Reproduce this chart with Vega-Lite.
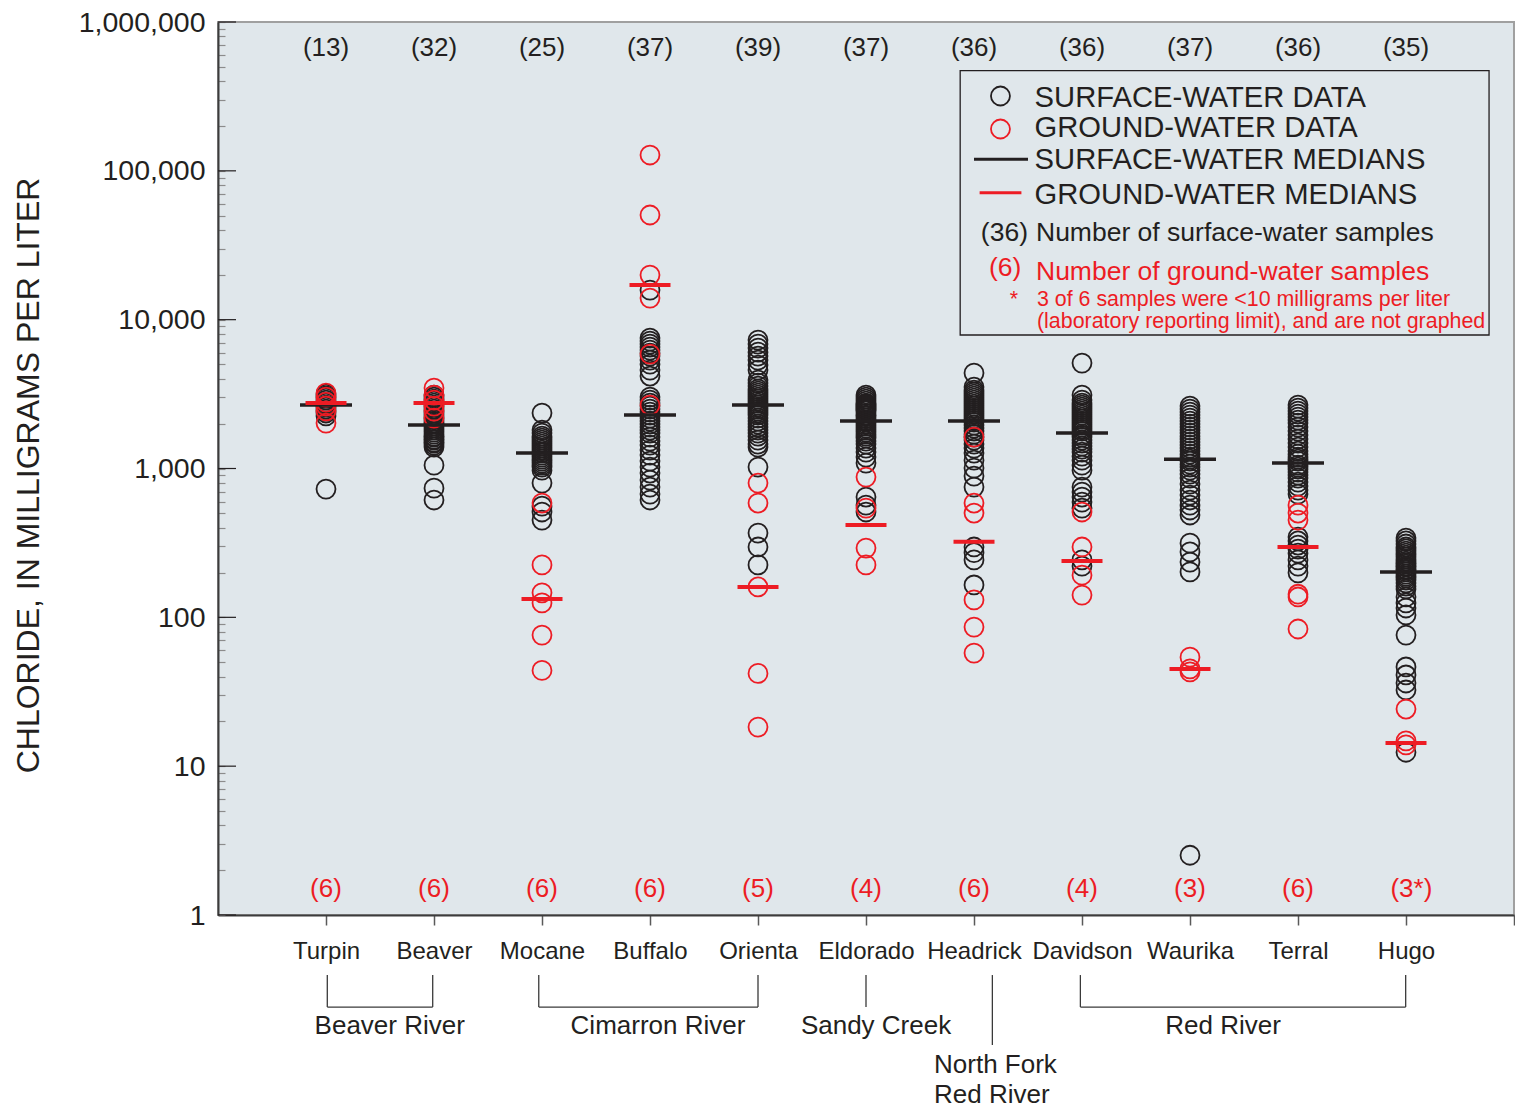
{
  "$schema": "https://vega.github.io/schema/vega-lite/v6.json",
  "autosize": "none",
  "padding": {"left": 218, "top": 22, "right": 1, "bottom": 195},
  "width": 1296,
  "height": 893,
  "background": "white",
  "config": {"font": "Liberation Sans", "view": {"fill": "#e0e7eb", "stroke": "#a0a0a0", "strokeWidth": 2}},
  "datasets": {
    "obs": [
      {"site":1,"type":"surface","chloride":3160},{"site":1,"type":"surface","chloride":3070},{"site":1,"type":"surface","chloride":2975},{"site":1,"type":"surface","chloride":2885},{"site":1,"type":"surface","chloride":2795},{"site":1,"type":"surface","chloride":2750},{"site":1,"type":"surface","chloride":2670},{"site":1,"type":"surface","chloride":2590},{"site":1,"type":"surface","chloride":2510},{"site":1,"type":"surface","chloride":2435},{"site":1,"type":"surface","chloride":2360},{"site":1,"type":"surface","chloride":2255},{"site":1,"type":"surface","chloride":727},
      {"site":2,"type":"surface","chloride":3113},{"site":2,"type":"surface","chloride":3018},{"site":2,"type":"surface","chloride":2926},{"site":2,"type":"surface","chloride":2839},{"site":2,"type":"surface","chloride":2752},{"site":2,"type":"surface","chloride":2668},{"site":2,"type":"surface","chloride":2587},{"site":2,"type":"surface","chloride":2507},{"site":2,"type":"surface","chloride":2431},{"site":2,"type":"surface","chloride":2357},{"site":2,"type":"surface","chloride":2285},{"site":2,"type":"surface","chloride":2215},{"site":2,"type":"surface","chloride":2148},{"site":2,"type":"surface","chloride":2083},{"site":2,"type":"surface","chloride":2019},{"site":2,"type":"surface","chloride":1988},{"site":2,"type":"surface","chloride":1927},{"site":2,"type":"surface","chloride":1868},{"site":2,"type":"surface","chloride":1811},{"site":2,"type":"surface","chloride":1756},{"site":2,"type":"surface","chloride":1702},{"site":2,"type":"surface","chloride":1650},{"site":2,"type":"surface","chloride":1625},{"site":2,"type":"surface","chloride":1576},{"site":2,"type":"surface","chloride":1552},{"site":2,"type":"surface","chloride":1504},{"site":2,"type":"surface","chloride":1481},{"site":2,"type":"surface","chloride":1436},{"site":2,"type":"surface","chloride":1392},{"site":2,"type":"surface","chloride":1053},{"site":2,"type":"surface","chloride":738},{"site":2,"type":"surface","chloride":614},
      {"site":3,"type":"surface","chloride":2357},{"site":3,"type":"surface","chloride":1811},{"site":3,"type":"surface","chloride":1729},{"site":3,"type":"surface","chloride":1650},{"site":3,"type":"surface","chloride":1600},{"site":3,"type":"surface","chloride":1552},{"site":3,"type":"surface","chloride":1504},{"site":3,"type":"surface","chloride":1459},{"site":3,"type":"surface","chloride":1414},{"site":3,"type":"surface","chloride":1371},{"site":3,"type":"surface","chloride":1329},{"site":3,"type":"surface","chloride":1289},{"site":3,"type":"surface","chloride":1269},{"site":3,"type":"surface","chloride":1230},{"site":3,"type":"surface","chloride":1193},{"site":3,"type":"surface","chloride":1156},{"site":3,"type":"surface","chloride":1121},{"site":3,"type":"surface","chloride":1087},{"site":3,"type":"surface","chloride":1053},{"site":3,"type":"surface","chloride":1022},{"site":3,"type":"surface","chloride":975},{"site":3,"type":"surface","chloride":798},{"site":3,"type":"surface","chloride":559},{"site":3,"type":"surface","chloride":510},{"site":3,"type":"surface","chloride":450},
      {"site":4,"type":"surface","chloride":15800},{"site":4,"type":"surface","chloride":7520},{"site":4,"type":"surface","chloride":7180},{"site":4,"type":"surface","chloride":6850},{"site":4,"type":"surface","chloride":6540},{"site":4,"type":"surface","chloride":6243},{"site":4,"type":"surface","chloride":5960},{"site":4,"type":"surface","chloride":5690},{"site":4,"type":"surface","chloride":5348},{"site":4,"type":"surface","chloride":5020},{"site":4,"type":"surface","chloride":4582},{"site":4,"type":"surface","chloride":4180},{"site":4,"type":"surface","chloride":3018},{"site":4,"type":"surface","chloride":2883},{"site":4,"type":"surface","chloride":2752},{"site":4,"type":"surface","chloride":2627},{"site":4,"type":"surface","chloride":2507},{"site":4,"type":"surface","chloride":2393},{"site":4,"type":"surface","chloride":2285},{"site":4,"type":"surface","chloride":2181},{"site":4,"type":"surface","chloride":2083},{"site":4,"type":"surface","chloride":1988},{"site":4,"type":"surface","chloride":1898},{"site":4,"type":"surface","chloride":1811},{"site":4,"type":"surface","chloride":1729},{"site":4,"type":"surface","chloride":1625},{"site":4,"type":"surface","chloride":1528},{"site":4,"type":"surface","chloride":1436},{"site":4,"type":"surface","chloride":1329},{"site":4,"type":"surface","chloride":1230},{"site":4,"type":"surface","chloride":1121},{"site":4,"type":"surface","chloride":1022},{"site":4,"type":"surface","chloride":932},{"site":4,"type":"surface","chloride":836},{"site":4,"type":"surface","chloride":750},{"site":4,"type":"surface","chloride":673},{"site":4,"type":"surface","chloride":614},
      {"site":5,"type":"surface","chloride":7287},{"site":5,"type":"surface","chloride":6850},{"site":5,"type":"surface","chloride":6440},{"site":5,"type":"surface","chloride":6050},{"site":5,"type":"surface","chloride":5690},{"site":5,"type":"surface","chloride":5348},{"site":5,"type":"surface","chloride":4950},{"site":5,"type":"surface","chloride":4582},{"site":5,"type":"surface","chloride":3926},{"site":5,"type":"surface","chloride":3748},{"site":5,"type":"surface","chloride":3578},{"site":5,"type":"surface","chloride":3416},{"site":5,"type":"surface","chloride":3312},{"site":5,"type":"surface","chloride":3211},{"site":5,"type":"surface","chloride":3113},{"site":5,"type":"surface","chloride":3018},{"site":5,"type":"surface","chloride":2926},{"site":5,"type":"surface","chloride":2839},{"site":5,"type":"surface","chloride":2752},{"site":5,"type":"surface","chloride":2668},{"site":5,"type":"surface","chloride":2587},{"site":5,"type":"surface","chloride":2507},{"site":5,"type":"surface","chloride":2431},{"site":5,"type":"surface","chloride":2357},{"site":5,"type":"surface","chloride":2285},{"site":5,"type":"surface","chloride":2181},{"site":5,"type":"surface","chloride":2083},{"site":5,"type":"surface","chloride":1988},{"site":5,"type":"surface","chloride":1898},{"site":5,"type":"surface","chloride":1811},{"site":5,"type":"surface","chloride":1729},{"site":5,"type":"surface","chloride":1650},{"site":5,"type":"surface","chloride":1552},{"site":5,"type":"surface","chloride":1459},{"site":5,"type":"surface","chloride":1392},{"site":5,"type":"surface","chloride":1022},{"site":5,"type":"surface","chloride":368},{"site":5,"type":"surface","chloride":297},{"site":5,"type":"surface","chloride":225},
      {"site":6,"type":"surface","chloride":3113},{"site":6,"type":"surface","chloride":3018},{"site":6,"type":"surface","chloride":2926},{"site":6,"type":"surface","chloride":2839},{"site":6,"type":"surface","chloride":2752},{"site":6,"type":"surface","chloride":2710},{"site":6,"type":"surface","chloride":2668},{"site":6,"type":"surface","chloride":2627},{"site":6,"type":"surface","chloride":2587},{"site":6,"type":"surface","chloride":2547},{"site":6,"type":"surface","chloride":2507},{"site":6,"type":"surface","chloride":2469},{"site":6,"type":"surface","chloride":2431},{"site":6,"type":"surface","chloride":2357},{"site":6,"type":"surface","chloride":2285},{"site":6,"type":"surface","chloride":2250},{"site":6,"type":"surface","chloride":2181},{"site":6,"type":"surface","chloride":2115},{"site":6,"type":"surface","chloride":2083},{"site":6,"type":"surface","chloride":2051},{"site":6,"type":"surface","chloride":1988},{"site":6,"type":"surface","chloride":1927},{"site":6,"type":"surface","chloride":1868},{"site":6,"type":"surface","chloride":1811},{"site":6,"type":"surface","chloride":1756},{"site":6,"type":"surface","chloride":1702},{"site":6,"type":"surface","chloride":1650},{"site":6,"type":"surface","chloride":1600},{"site":6,"type":"surface","chloride":1528},{"site":6,"type":"surface","chloride":1459},{"site":6,"type":"surface","chloride":1371},{"site":6,"type":"surface","chloride":1289},{"site":6,"type":"surface","chloride":1193},{"site":6,"type":"surface","chloride":1087},{"site":6,"type":"surface","chloride":643},{"site":6,"type":"surface","chloride":568},{"site":6,"type":"surface","chloride":510},
      {"site":7,"type":"surface","chloride":4374},{"site":7,"type":"surface","chloride":3523},{"site":7,"type":"surface","chloride":3364},{"site":7,"type":"surface","chloride":3261},{"site":7,"type":"surface","chloride":3162},{"site":7,"type":"surface","chloride":3065},{"site":7,"type":"surface","chloride":2972},{"site":7,"type":"surface","chloride":2883},{"site":7,"type":"surface","chloride":2795},{"site":7,"type":"surface","chloride":2710},{"site":7,"type":"surface","chloride":2627},{"site":7,"type":"surface","chloride":2547},{"site":7,"type":"surface","chloride":2469},{"site":7,"type":"surface","chloride":2394},{"site":7,"type":"surface","chloride":2321},{"site":7,"type":"surface","chloride":2250},{"site":7,"type":"surface","chloride":2181},{"site":7,"type":"surface","chloride":2115},{"site":7,"type":"surface","chloride":2051},{"site":7,"type":"surface","chloride":1957},{"site":7,"type":"surface","chloride":1868},{"site":7,"type":"surface","chloride":1783},{"site":7,"type":"surface","chloride":1702},{"site":7,"type":"surface","chloride":1625},{"site":7,"type":"surface","chloride":1552},{"site":7,"type":"surface","chloride":1459},{"site":7,"type":"surface","chloride":1371},{"site":7,"type":"surface","chloride":1269},{"site":7,"type":"surface","chloride":1138},{"site":7,"type":"surface","chloride":1006},{"site":7,"type":"surface","chloride":889},{"site":7,"type":"surface","chloride":750},{"site":7,"type":"surface","chloride":297},{"site":7,"type":"surface","chloride":272},{"site":7,"type":"surface","chloride":243},{"site":7,"type":"surface","chloride":165},
      {"site":8,"type":"surface","chloride":5106},{"site":8,"type":"surface","chloride":3113},{"site":8,"type":"surface","chloride":2883},{"site":8,"type":"surface","chloride":2752},{"site":8,"type":"surface","chloride":2668},{"site":8,"type":"surface","chloride":2587},{"site":8,"type":"surface","chloride":2507},{"site":8,"type":"surface","chloride":2431},{"site":8,"type":"surface","chloride":2357},{"site":8,"type":"surface","chloride":2285},{"site":8,"type":"surface","chloride":2215},{"site":8,"type":"surface","chloride":2148},{"site":8,"type":"surface","chloride":2083},{"site":8,"type":"surface","chloride":2019},{"site":8,"type":"surface","chloride":1957},{"site":8,"type":"surface","chloride":1898},{"site":8,"type":"surface","chloride":1840},{"site":8,"type":"surface","chloride":1783},{"site":8,"type":"surface","chloride":1676},{"site":8,"type":"surface","chloride":1625},{"site":8,"type":"surface","chloride":1552},{"site":8,"type":"surface","chloride":1481},{"site":8,"type":"surface","chloride":1414},{"site":8,"type":"surface","chloride":1350},{"site":8,"type":"surface","chloride":1289},{"site":8,"type":"surface","chloride":1211},{"site":8,"type":"surface","chloride":1138},{"site":8,"type":"surface","chloride":1053},{"site":8,"type":"surface","chloride":975},{"site":8,"type":"surface","chloride":750},{"site":8,"type":"surface","chloride":694},{"site":8,"type":"surface","chloride":643},{"site":8,"type":"surface","chloride":595},{"site":8,"type":"surface","chloride":542},{"site":8,"type":"surface","chloride":243},{"site":8,"type":"surface","chloride":221},
      {"site":9,"type":"surface","chloride":2627},{"site":9,"type":"surface","chloride":2507},{"site":9,"type":"surface","chloride":2394},{"site":9,"type":"surface","chloride":2285},{"site":9,"type":"surface","chloride":2181},{"site":9,"type":"surface","chloride":2083},{"site":9,"type":"surface","chloride":1988},{"site":9,"type":"surface","chloride":1898},{"site":9,"type":"surface","chloride":1811},{"site":9,"type":"surface","chloride":1729},{"site":9,"type":"surface","chloride":1650},{"site":9,"type":"surface","chloride":1576},{"site":9,"type":"surface","chloride":1504},{"site":9,"type":"surface","chloride":1436},{"site":9,"type":"surface","chloride":1371},{"site":9,"type":"surface","chloride":1309},{"site":9,"type":"surface","chloride":1249},{"site":9,"type":"surface","chloride":1193},{"site":9,"type":"surface","chloride":1156},{"site":9,"type":"surface","chloride":1121},{"site":9,"type":"surface","chloride":1070},{"site":9,"type":"surface","chloride":1022},{"site":9,"type":"surface","chloride":975},{"site":9,"type":"surface","chloride":917},{"site":9,"type":"surface","chloride":862},{"site":9,"type":"surface","chloride":786},{"site":9,"type":"surface","chloride":716},{"site":9,"type":"surface","chloride":663},{"site":9,"type":"surface","chloride":614},{"site":9,"type":"surface","chloride":568},{"site":9,"type":"surface","chloride":526},{"site":9,"type":"surface","chloride":487},{"site":9,"type":"surface","chloride":315},{"site":9,"type":"surface","chloride":275},{"site":9,"type":"surface","chloride":235},{"site":9,"type":"surface","chloride":202},{"site":9,"type":"surface","chloride":2.52},
      {"site":10,"type":"surface","chloride":2668},{"site":10,"type":"surface","chloride":2547},{"site":10,"type":"surface","chloride":2431},{"site":10,"type":"surface","chloride":2321},{"site":10,"type":"surface","chloride":2215},{"site":10,"type":"surface","chloride":2115},{"site":10,"type":"surface","chloride":2019},{"site":10,"type":"surface","chloride":1898},{"site":10,"type":"surface","chloride":1783},{"site":10,"type":"surface","chloride":1676},{"site":10,"type":"surface","chloride":1576},{"site":10,"type":"surface","chloride":1481},{"site":10,"type":"surface","chloride":1392},{"site":10,"type":"surface","chloride":1309},{"site":10,"type":"surface","chloride":1249},{"site":10,"type":"surface","chloride":1193},{"site":10,"type":"surface","chloride":1156},{"site":10,"type":"surface","chloride":1121},{"site":10,"type":"surface","chloride":1053},{"site":10,"type":"surface","chloride":1022},{"site":10,"type":"surface","chloride":990},{"site":10,"type":"surface","chloride":946},{"site":10,"type":"surface","chloride":903},{"site":10,"type":"surface","chloride":862},{"site":10,"type":"surface","chloride":810},{"site":10,"type":"surface","chloride":762},{"site":10,"type":"surface","chloride":716},{"site":10,"type":"surface","chloride":673},{"site":10,"type":"surface","chloride":346},{"site":10,"type":"surface","chloride":326},{"site":10,"type":"surface","chloride":306},{"site":10,"type":"surface","chloride":287},{"site":10,"type":"surface","chloride":270},{"site":10,"type":"surface","chloride":243},{"site":10,"type":"surface","chloride":221},{"site":10,"type":"surface","chloride":199},
      {"site":11,"type":"surface","chloride":341},{"site":11,"type":"surface","chloride":326},{"site":11,"type":"surface","chloride":311},{"site":11,"type":"surface","chloride":297},{"site":11,"type":"surface","chloride":288},{"site":11,"type":"surface","chloride":279},{"site":11,"type":"surface","chloride":270},{"site":11,"type":"surface","chloride":262},{"site":11,"type":"surface","chloride":254},{"site":11,"type":"surface","chloride":246},{"site":11,"type":"surface","chloride":239},{"site":11,"type":"surface","chloride":232},{"site":11,"type":"surface","chloride":228},{"site":11,"type":"surface","chloride":221},{"site":11,"type":"surface","chloride":218},{"site":11,"type":"surface","chloride":211},{"site":11,"type":"surface","chloride":208},{"site":11,"type":"surface","chloride":202},{"site":11,"type":"surface","chloride":195},{"site":11,"type":"surface","chloride":189},{"site":11,"type":"surface","chloride":184},{"site":11,"type":"surface","chloride":178},{"site":11,"type":"surface","chloride":170},{"site":11,"type":"surface","chloride":162},{"site":11,"type":"surface","chloride":155},{"site":11,"type":"surface","chloride":137},{"site":11,"type":"surface","chloride":125},{"site":11,"type":"surface","chloride":115.5},{"site":11,"type":"surface","chloride":103.7},{"site":11,"type":"surface","chloride":76},{"site":11,"type":"surface","chloride":46.4},{"site":11,"type":"surface","chloride":41},{"site":11,"type":"surface","chloride":36.2},{"site":11,"type":"surface","chloride":32.5},{"site":11,"type":"surface","chloride":12.4},
      {"site":1,"type":"ground","chloride":3210},{"site":1,"type":"ground","chloride":3020},{"site":1,"type":"ground","chloride":2795},{"site":1,"type":"ground","chloride":2630},{"site":1,"type":"ground","chloride":2435},{"site":1,"type":"ground","chloride":2020},
      {"site":2,"type":"ground","chloride":3469},{"site":2,"type":"ground","chloride":3113},{"site":2,"type":"ground","chloride":2883},{"site":2,"type":"ground","chloride":2627},{"site":2,"type":"ground","chloride":2431},{"site":2,"type":"ground","chloride":2181},
      {"site":3,"type":"ground","chloride":586},{"site":3,"type":"ground","chloride":225},{"site":3,"type":"ground","chloride":146},{"site":3,"type":"ground","chloride":125},{"site":3,"type":"ground","chloride":76},{"site":3,"type":"ground","chloride":44},
      {"site":4,"type":"ground","chloride":127700},{"site":4,"type":"ground","chloride":50500},{"site":4,"type":"ground","chloride":19940},{"site":4,"type":"ground","chloride":13970},{"site":4,"type":"ground","chloride":5868},{"site":4,"type":"ground","chloride":2668},
      {"site":5,"type":"ground","chloride":798},{"site":5,"type":"ground","chloride":586},{"site":5,"type":"ground","chloride":160},{"site":5,"type":"ground","chloride":42},{"site":5,"type":"ground","chloride":18.3},
      {"site":6,"type":"ground","chloride":876},{"site":6,"type":"ground","chloride":542},{"site":6,"type":"ground","chloride":292},{"site":6,"type":"ground","chloride":225},
      {"site":7,"type":"ground","chloride":1625},{"site":7,"type":"ground","chloride":586},{"site":7,"type":"ground","chloride":502},{"site":7,"type":"ground","chloride":131},{"site":7,"type":"ground","chloride":86},{"site":7,"type":"ground","chloride":57.5},
      {"site":8,"type":"ground","chloride":510},{"site":8,"type":"ground","chloride":297},{"site":8,"type":"ground","chloride":192},{"site":8,"type":"ground","chloride":141},
      {"site":9,"type":"ground","chloride":54},{"site":9,"type":"ground","chloride":45},{"site":9,"type":"ground","chloride":43},
      {"site":10,"type":"ground","chloride":568},{"site":10,"type":"ground","chloride":502},{"site":10,"type":"ground","chloride":450},{"site":10,"type":"ground","chloride":143},{"site":10,"type":"ground","chloride":137},{"site":10,"type":"ground","chloride":83.5},
      {"site":11,"type":"ground","chloride":24.2},{"site":11,"type":"ground","chloride":14.8},{"site":11,"type":"ground","chloride":13.9}
    ],
    "medians": [
      {"site":1,"type":"surface","chloride":2670},{"site":2,"type":"surface","chloride":1957},{"site":3,"type":"surface","chloride":1269},{"site":4,"type":"surface","chloride":2285},{"site":5,"type":"surface","chloride":2668},{"site":6,"type":"surface","chloride":2083},{"site":7,"type":"surface","chloride":2083},{"site":8,"type":"surface","chloride":1729},{"site":9,"type":"surface","chloride":1156},{"site":10,"type":"surface","chloride":1087},{"site":11,"type":"surface","chloride":202},
      {"site":1,"type":"ground","chloride":2750},{"site":2,"type":"ground","chloride":2752},{"site":3,"type":"ground","chloride":133},{"site":4,"type":"ground","chloride":17080},{"site":5,"type":"ground","chloride":160},{"site":6,"type":"ground","chloride":417},{"site":7,"type":"ground","chloride":322},{"site":8,"type":"ground","chloride":239},{"site":9,"type":"ground","chloride":45},{"site":10,"type":"ground","chloride":297},{"site":11,"type":"ground","chloride":14.3}
    ],
    "counts": [
      {"site":1,"type":"surface","label":"(13)","chloride":665000},{"site":2,"type":"surface","label":"(32)","chloride":665000},{"site":3,"type":"surface","label":"(25)","chloride":665000},{"site":4,"type":"surface","label":"(37)","chloride":665000},{"site":5,"type":"surface","label":"(39)","chloride":665000},{"site":6,"type":"surface","label":"(37)","chloride":665000},{"site":7,"type":"surface","label":"(36)","chloride":665000},{"site":8,"type":"surface","label":"(36)","chloride":665000},{"site":9,"type":"surface","label":"(37)","chloride":665000},{"site":10,"type":"surface","label":"(36)","chloride":665000},{"site":11,"type":"surface","label":"(35)","chloride":665000},
      {"site":1,"type":"ground","label":"(6)","chloride":1.5},{"site":2,"type":"ground","label":"(6)","chloride":1.5},{"site":3,"type":"ground","label":"(6)","chloride":1.5},{"site":4,"type":"ground","label":"(6)","chloride":1.5},{"site":5,"type":"ground","label":"(5)","chloride":1.5},{"site":6,"type":"ground","label":"(4)","chloride":1.5},{"site":7,"type":"ground","label":"(6)","chloride":1.5},{"site":8,"type":"ground","label":"(4)","chloride":1.5},{"site":9,"type":"ground","label":"(3)","chloride":1.5},{"site":10,"type":"ground","label":"(6)","chloride":1.5},{"site":11.05,"type":"ground","label":"(3*)","chloride":1.5}
    ],
    "majorTicks": [
      {"site":0,"site2":0.1667,"chloride":1},{"site":0,"site2":0.1667,"chloride":10},{"site":0,"site2":0.1667,"chloride":100},{"site":0,"site2":0.1667,"chloride":1000},{"site":0,"site2":0.1667,"chloride":10000},{"site":0,"site2":0.1667,"chloride":100000},{"site":0,"site2":0.1667,"chloride":1000000}
    ],
    "legendBox": [{"site":6.872,"site2":11.769,"chloride":470800,"chloride2":7886}],
    "legendSymbols": [{"site":7.245,"type":"surface","chloride":318300},{"site":7.245,"type":"ground","chloride":191000}],
    "legendLines": [{"site":7.0,"site2":7.5,"type":"surface","chloride":119500},{"site":7.052,"site2":7.439,"type":"ground","chloride":71300}],
    "legendLabels": [
      {"site":7.561,"label":"SURFACE-WATER DATA","chloride":308600},
      {"site":7.561,"label":"GROUND-WATER DATA","chloride":194000},
      {"site":7.561,"label":"SURFACE-WATER MEDIANS","chloride":118300},
      {"site":7.561,"label":"GROUND-WATER MEDIANS","chloride":68800}
    ],
    "legendKeys": [{"site":7.5,"type":"surface","label":"(36)","chloride":37930},{"site":7.439,"type":"ground","label":"(6)","chloride":22240}],
    "legendKeyText": [{"site":7.574,"type":"surface","label":"Number of surface-water samples","chloride":37930},{"site":7.574,"type":"ground","label":"Number of ground-water samples","chloride":20910}],
    "footnote": [
      {"site":7.33,"label":"*","chloride":13660},
      {"site":7.583,"label":"3 of 6 samples were <10 milligrams per liter","chloride":13660},
      {"site":7.583,"label":"(laboratory reporting limit), and are not graphed","chloride":9646}
    ],
    "brackets": [
      {"site":1.012,"site2":1.012,"chloride":0.395,"chloride2":0.2408},{"site":1.012,"site2":1.988,"chloride":0.2408,"chloride2":0.2408},{"site":1.988,"site2":1.988,"chloride":0.2408,"chloride2":0.395},
      {"site":2.97,"site2":2.97,"chloride":0.395,"chloride2":0.2408},{"site":2.97,"site2":5.0,"chloride":0.2408,"chloride2":0.2408},{"site":5.0,"site2":5.0,"chloride":0.2408,"chloride2":0.395},
      {"site":6.0,"site2":6.0,"chloride":0.395,"chloride2":0.2408},
      {"site":7.17,"site2":7.17,"chloride":0.395,"chloride2":0.1338},
      {"site":7.985,"site2":7.985,"chloride":0.395,"chloride2":0.2408},{"site":7.985,"site2":10.997,"chloride":0.2408,"chloride2":0.2408},{"site":10.997,"site2":10.997,"chloride":0.2408,"chloride2":0.395}
    ],
    "rivers": [
      {"site":1.59,"label":"Beaver River","chloride":0.1795},
      {"site":4.074,"label":"Cimarron River","chloride":0.1795},
      {"site":6.093,"label":"Sandy Creek","chloride":0.1795},
      {"site":9.306,"label":"Red River","chloride":0.1795}
    ],
    "northFork": [
      {"site":6.63,"label":"North Fork","chloride":0.0982},
      {"site":6.63,"label":"Red River","chloride":0.0617}
    ]
  },
  "encoding": {
    "x": {
      "field": "site", "type": "quantitative",
      "scale": {"domain": [0, 12], "nice": false, "zero": false},
      "axis": {
        "title": null, "grid": false,
        "values": [1,2,3,4,5,6,7,8,9,10,11,12],
        "labelExpr": "['','Turpin','Beaver','Mocane','Buffalo','Orienta','Eldorado','Headrick','Davidson','Waurika','Terral','Hugo',''][datum.value]",
        "labelFontSize": 24, "labelColor": "#231f20", "labelPadding": 14,
        "labelFlush": false, "labelOverlap": false, "labelBound": false,
        "tickSize": 10, "tickColor": "#5a5a5a", "tickWidth": 1.5,
        "domainColor": "#3c3c3c", "domainWidth": 2
      }
    },
    "y": {
      "field": "chloride", "type": "quantitative",
      "scale": {"type": "log", "domain": [1, 1000000], "nice": false},
      "axis": {
        "title": "CHLORIDE, IN MILLIGRAMS PER LITER",
        "titleFontSize": 32, "titleFontWeight": "normal", "titleColor": "#231f20",
        "titleX": -180, "titleY": 453, "titleAngle": -90, "titleBaseline": "alphabetic", "titleAlign": "center",
        "grid": false,
        "values": [1,2,3,4,5,6,7,8,9,10,20,30,40,50,60,70,80,90,100,200,300,400,500,600,700,800,900,1000,2000,3000,4000,5000,6000,7000,8000,9000,10000,20000,30000,40000,50000,60000,70000,80000,90000,100000,200000,300000,400000,500000,600000,700000,800000,900000,1000000],
        "labelExpr": "indexof([1,10,100,1000,10000,100000,1000000], datum.value) >= 0 ? format(datum.value, ',') : ''",
        "labelFontSize": 28.5, "labelColor": "#231f20", "labelPadding": 20,
        "labelFlush": false, "labelOverlap": false, "labelBound": false,
        "tickSize": -7, "tickColor": "#8c8c8c", "tickWidth": 1.2,
        "domainColor": "#3c3c3c", "domainWidth": 2
      }
    }
  },
  "layer": [
    {"data": {"name": "legendBox"}, "mark": {"type": "rect", "fill": "transparent", "stroke": "#231f20", "strokeWidth": 1.3}, "encoding": {"x2": {"field": "site2"}, "y2": {"field": "chloride2"}}},
    {"data": {"name": "majorTicks"}, "mark": {"type": "rule", "color": "#231f20", "strokeWidth": 1.2}, "encoding": {"x2": {"field": "site2"}}},
    {"data": {"name": "obs"}, "mark": {"type": "point", "shape": "circle", "filled": false, "size": 360, "strokeWidth": 1.8, "opacity": 1},
     "encoding": {"color": {"field": "type", "type": "nominal", "scale": {"domain": ["surface", "ground"], "range": ["#231f20", "#ed1c24"]}, "legend": null}}},
    {"data": {"name": "medians"}, "transform": [{"filter": "datum.type === 'surface'"}], "mark": {"type": "tick", "orient": "horizontal", "size": 52, "thickness": 3.5, "color": "#231f20", "opacity": 1}},
    {"data": {"name": "medians"}, "transform": [{"filter": "datum.type === 'ground'"}], "mark": {"type": "tick", "orient": "horizontal", "size": 41, "thickness": 4, "color": "#ed1c24", "opacity": 1}},
    {"data": {"name": "counts"}, "mark": {"type": "text", "fontSize": 26, "align": "center", "baseline": "middle"},
     "encoding": {"text": {"field": "label"}, "color": {"field": "type", "type": "nominal", "scale": {"domain": ["surface", "ground"], "range": ["#231f20", "#ed1c24"]}, "legend": null}}},
    {"data": {"name": "legendSymbols"}, "mark": {"type": "point", "shape": "circle", "filled": false, "size": 360, "strokeWidth": 1.8, "opacity": 1},
     "encoding": {"color": {"field": "type", "type": "nominal", "scale": {"domain": ["surface", "ground"], "range": ["#231f20", "#ed1c24"]}, "legend": null}}},
    {"data": {"name": "legendLines"}, "mark": {"type": "rule", "strokeWidth": 3},
     "encoding": {"x2": {"field": "site2"}, "color": {"field": "type", "type": "nominal", "scale": {"domain": ["surface", "ground"], "range": ["#231f20", "#ed1c24"]}, "legend": null}}},
    {"data": {"name": "legendLabels"}, "mark": {"type": "text", "fontSize": 29.2, "align": "left", "baseline": "middle", "color": "#231f20"}, "encoding": {"text": {"field": "label"}}},
    {"data": {"name": "legendKeys"}, "mark": {"type": "text", "fontSize": 26.5, "align": "right", "baseline": "middle"},
     "encoding": {"text": {"field": "label"}, "color": {"field": "type", "type": "nominal", "scale": {"domain": ["surface", "ground"], "range": ["#231f20", "#ed1c24"]}, "legend": null}}},
    {"data": {"name": "legendKeyText"}, "mark": {"type": "text", "fontSize": 26.5, "align": "left", "baseline": "middle"},
     "encoding": {"text": {"field": "label"}, "color": {"field": "type", "type": "nominal", "scale": {"domain": ["surface", "ground"], "range": ["#231f20", "#ed1c24"]}, "legend": null}}},
    {"data": {"name": "footnote"}, "mark": {"type": "text", "fontSize": 21.4, "align": "left", "baseline": "middle", "color": "#ed1c24"}, "encoding": {"text": {"field": "label"}}},
    {"data": {"name": "brackets"}, "mark": {"type": "rule", "color": "#3a3a3a", "strokeWidth": 1.3}, "encoding": {"x2": {"field": "site2"}, "y2": {"field": "chloride2"}}},
    {"data": {"name": "rivers"}, "mark": {"type": "text", "fontSize": 26, "align": "center", "baseline": "middle", "color": "#231f20"}, "encoding": {"text": {"field": "label"}}},
    {"data": {"name": "northFork"}, "mark": {"type": "text", "fontSize": 26, "align": "left", "baseline": "middle", "color": "#231f20"}, "encoding": {"text": {"field": "label"}}}
  ]
}
